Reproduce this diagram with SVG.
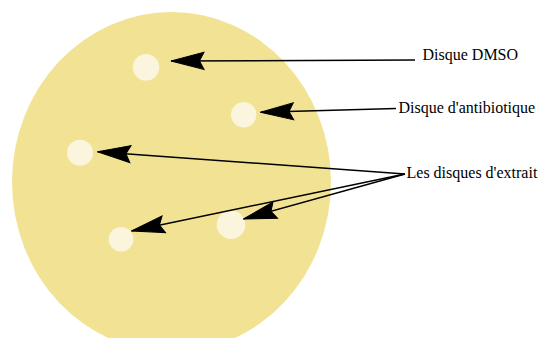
<svg xmlns="http://www.w3.org/2000/svg" width="541" height="338" viewBox="0 0 541 338">
<style>
.plate{fill:#F2E394;}
.disc{fill:#FAF5DC;}
.conn{stroke:#000;stroke-width:1.5;fill:none;marker-end:url(#arr);}
.lbl{font-size:16px;fill:#000;}
</style>
<defs>
<marker id="arr" markerUnits="userSpaceOnUse" viewBox="-34 -10 36 20" refX="0" refY="0" markerWidth="36" markerHeight="20" orient="auto" overflow="visible">
<path d="M0,0 L-33,-8.5 L-28.5,0 L-33,8.5 Z" fill="#000" stroke="#000" stroke-width="1" stroke-linejoin="miter"/>
</marker>
</defs>
<g id="plate"><ellipse class="plate" cx="171.5" cy="182" rx="159.5" ry="170"/></g>
<g id="disc-dmso"><circle class="disc" cx="146" cy="67.3" r="13.3"/></g>
<g id="disc-antibio"><circle class="disc" cx="243.7" cy="114.7" r="12.7"/></g>
<g id="disc-extrait-1"><circle class="disc" cx="80" cy="152.7" r="13"/></g>
<g id="disc-extrait-2"><circle class="disc" cx="121" cy="239.3" r="12.3"/></g>
<g id="disc-extrait-3"><circle class="disc" cx="231" cy="224.7" r="14.3"/></g>
<g id="connectors">
<line class="conn" x1="415" y1="60" x2="171" y2="61"/>
<line class="conn" x1="396" y1="108.5" x2="260.5" y2="112.3"/>
<line class="conn" x1="405" y1="174" x2="97.5" y2="151.7"/>
<line class="conn" x1="405" y1="174" x2="131.5" y2="231"/>
<line class="conn" x1="405" y1="174" x2="243.5" y2="219"/>
</g>
<g id="labels" font-family="'Liberation Serif', 'DejaVu Serif', serif">
<g id="label-dmso"><text class="lbl" x="422.5" y="59.5">Disque DMSO</text></g>
<g id="label-antibio"><text class="lbl" x="398.5" y="112.5">Disque d'antibiotique</text></g>
<g id="label-extrait"><text class="lbl" x="406.5" y="177.5">Les disques d'extrait</text></g>
</g>
</svg>
